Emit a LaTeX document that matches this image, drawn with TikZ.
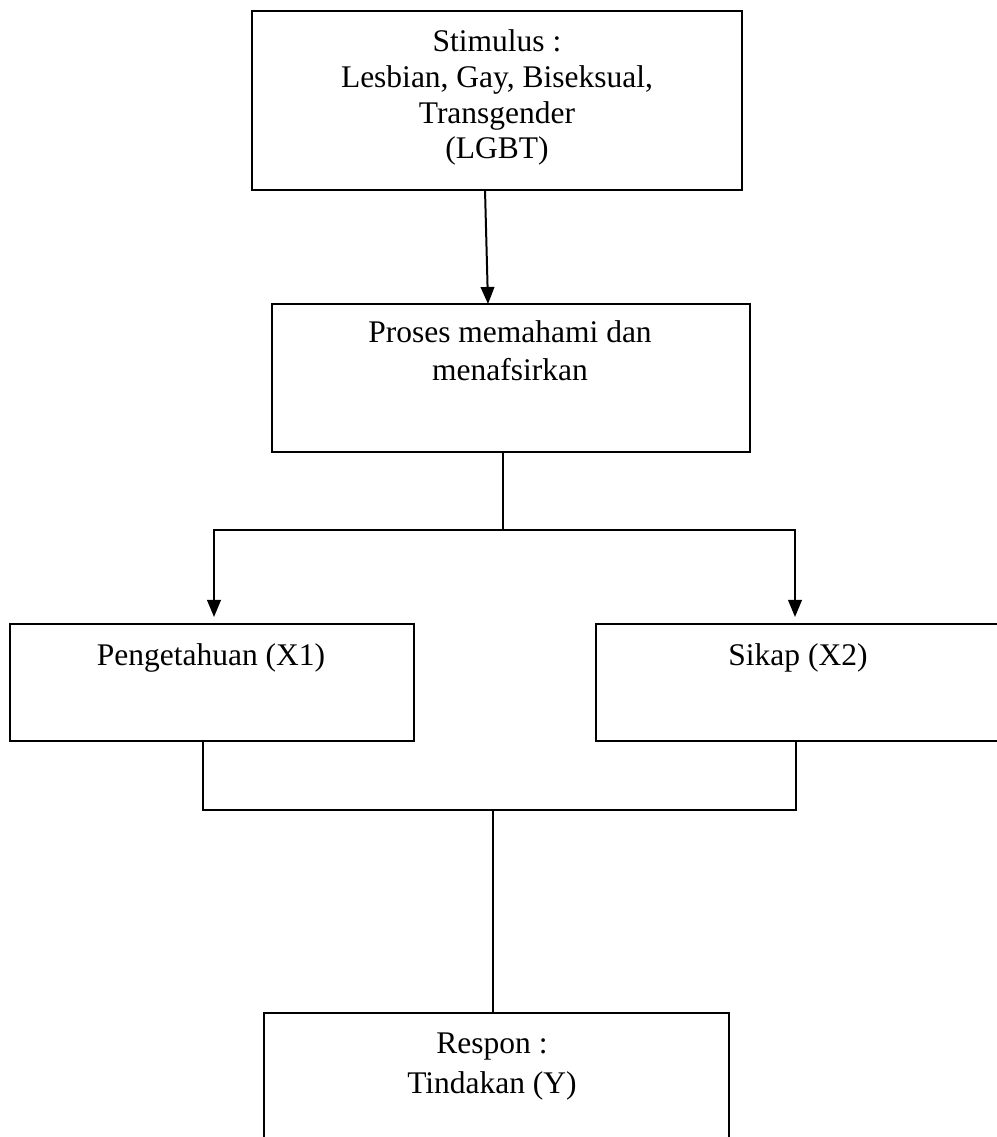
\documentclass[tikz,border=0pt]{standalone}
\usepackage{fontspec}
\setmainfont{Liberation Serif}
\usetikzlibrary{arrows.meta,calc}
\begin{document}
\begin{tikzpicture}[x=0.381pt,y=-0.381pt,
  box/.style={draw,line width=0.76pt,inner sep=0pt,outer sep=0pt,anchor=north west},
  lbl/.style={inner sep=0pt,align=center,anchor=base},
  conn/.style={line width=0.76pt},
  arr/.style={conn,-{Triangle[length=6.5pt,width=5.2pt]}}]
\useasboundingbox (0,0) rectangle (997,1137);
\clip (0,0) rectangle (997,1137);
\fill[white] (0,0) rectangle (997,1137);
% boxes
\node[box,minimum width=490*0.381pt,minimum height=179*0.381pt] (b1) at (252,11) {};
\node[box,minimum width=478*0.381pt,minimum height=148*0.381pt] (b2) at (272,304) {};
\node[box,minimum width=404*0.381pt,minimum height=117*0.381pt] (b3) at (10,624) {};
\node[box,minimum width=420*0.381pt,minimum height=117*0.381pt] (b4) at (596,624) {};
\node[box,minimum width=465*0.381pt,minimum height=160*0.381pt] (b5) at (264,1013) {};
% texts (base anchor = baseline of the last line)
\node[lbl,font=\fontsize{12pt}{13.6pt}\selectfont] (t1) at (497,159) {Stimulus :\\Lesbian, Gay, Biseksual,\\Transgender\\(LGBT)};
\node[lbl,font=\fontsize{12pt}{14.5pt}\selectfont] (t2) at (510,381) {Proses memahami dan\\menafsirkan};
\node[lbl,font=\fontsize{12pt}{14pt}\selectfont] (t3) at (211,665) {Pengetahuan (X1)};
\node[lbl,font=\fontsize{12pt}{14pt}\selectfont] (t4) at (798,665) {Sikap (X2)};
\node[lbl,font=\fontsize{12pt}{15.2pt}\selectfont] (t5) at (492,1093) {Respon :\\Tindakan (Y)};
% connectors
\draw[arr] ($(b1.south)+(-12,0)$) -- ($(b2.north)+(-23,0)$);
\coordinate (s) at (503,530);
\draw[conn] (b2.south -| s) -- (s);
\draw[arr] (s) -| ($(b3.north)+(2,-7)$);
\draw[arr] (s) -| ($(b4.north west)+(199,-7)$);
\coordinate (jl) at (203,810);
\coordinate (jr) at (796,810);
\coordinate (jm) at (493,810);
\draw[conn] (b3.south -| jl) -- (jl) -- (jr) -- (b4.south -| jr);
\draw[conn] (jm) -- (b5.north -| jm);
\end{tikzpicture}
\end{document}
